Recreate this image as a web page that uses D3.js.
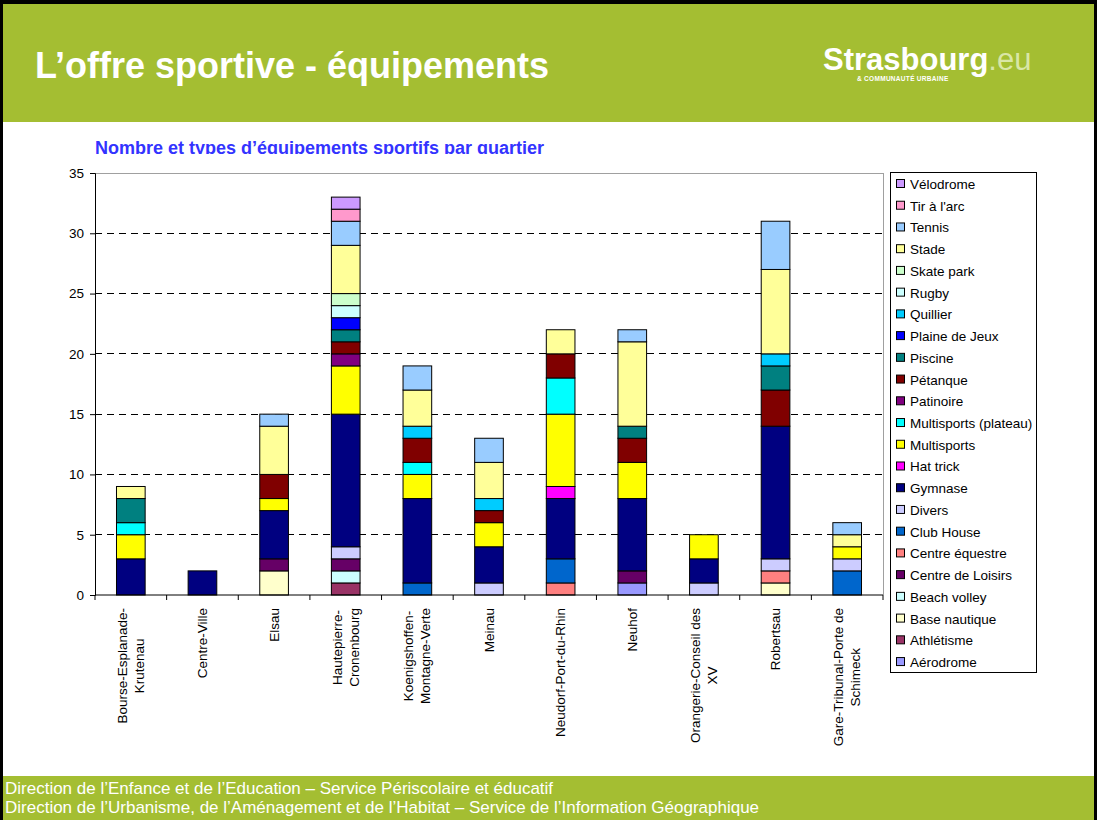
<!DOCTYPE html>
<html><head><meta charset="utf-8">
<script src="https://cdn.jsdelivr.net/npm/d3@7"></script>
<style>
html,body{margin:0;padding:0;background:#fff;}
svg{display:block;}
text{font-family:"Liberation Sans",Arial,sans-serif;}
</style></head>
<body>
<script>
const categories = ["Bourse-Esplanade-Krutenau","Centre-Ville","Elsau","Hautepierre-Cronenbourg","Koenigshoffen-Montagne-Verte","Meinau","Neudorf-Port-du-Rhin","Neuhof","Orangerie-Conseil des XV","Robertsau","Gare-Tribunal-Porte de Schimeck"];
const categoryLines = [["Bourse-Esplanade-","Krutenau"],["Centre-Ville"],["Elsau"],["Hautepierre-","Cronenbourg"],["Koenigshoffen-","Montagne-Verte"],["Meinau"],["Neudorf-Port-du-Rhin"],["Neuhof"],["Orangerie-Conseil des","XV"],["Robertsau"],["Gare-Tribunal-Porte de","Schimeck"]];
const seriesNames = ["Aérodrome","Athlétisme","Base nautique","Beach volley","Centre de Loisirs","Centre équestre","Club House","Divers","Gymnase","Hat trick","Multisports","Multisports (plateau)","Patinoire","Pétanque","Piscine","Plaine de Jeux","Quillier","Rugby","Skate park","Stade","Tennis","Tir à l'arc","Vélodrome"];
const seriesColors = ["#9999FF","#993366","#FFFFCC","#CCFFFF","#660066","#FF8080","#0066CC","#CCCCFF","#000080","#FF00FF","#FFFF00","#00FFFF","#800080","#800000","#008080","#0000FF","#00CCFF","#CCFFFF","#CCFFCC","#FFFF99","#99CCFF","#FF99CC","#CC99FF"];
const aerodrome      = [0,0,0,0,0,0,0,1,0,0,0];
const athletisme     = [0,0,0,1,0,0,0,0,0,0,0];
const baseNautique   = [0,0,2,0,0,0,0,0,0,1,0];
const beachVolley    = [0,0,0,1,0,0,0,0,0,0,0];
const centreLoisirs  = [0,0,1,1,0,0,0,1,0,0,0];
const centreEquestre = [0,0,0,0,0,0,1,0,0,1,0];
const clubHouse      = [0,0,0,0,1,0,2,0,0,0,2];
const divers         = [0,0,0,1,0,1,0,0,1,1,1];
const gymnase        = [3,2,4,11,7,3,5,6,2,11,0];
const hatTrick       = [0,0,0,0,0,0,1,0,0,0,0];
const multisports    = [2,0,1,4,2,2,6,3,2,0,1];
const multiPlateau   = [1,0,0,0,1,0,3,0,0,0,0];
const patinoire      = [0,0,0,1,0,0,0,0,0,0,0];
const petanque       = [0,0,2,1,2,1,2,2,0,3,0];
const piscine        = [2,0,0,1,0,0,0,1,0,2,0];
const plaineJeux     = [0,0,0,1,0,0,0,0,0,0,0];
const quillier       = [0,0,0,0,1,1,0,0,0,1,0];
const rugby          = [0,0,0,1,0,0,0,0,0,0,0];
const skatePark      = [0,0,0,1,0,0,0,0,0,0,0];
const stade          = [1,0,4,4,3,3,2,7,0,7,1];
const tennis         = [0,0,1,2,2,2,0,1,0,4,1];
const tirArc         = [0,0,0,1,0,0,0,0,0,0,0];
const velodrome      = [0,0,0,1,0,0,0,0,0,0,0];
const seriesValues = [aerodrome,athletisme,baseNautique,beachVolley,centreLoisirs,centreEquestre,clubHouse,divers,gymnase,hatTrick,multisports,multiPlateau,patinoire,petanque,piscine,plaineJeux,quillier,rugby,skatePark,stade,tennis,tirArc,velodrome];
const yTicks = [0,5,10,15,20,25,30,35];
const titleText = "L\u2019offre sportive - équipements";
const subtitleText = "Nombre et types d\u2019équipements sportifs par quartier";
const footerLines = ["Direction de l\u2019Enfance et de l\u2019Education \u2013 Service Périscolaire et éducatif","Direction de l\u2019Urbanisme, de l\u2019Aménagement et de l\u2019Habitat \u2013 Service de l\u2019Information Géographique"];

const W = 1097, H = 820;
const green = "#A4BE32";
const fs = 13.5;
const svg = d3.select("body").append("svg").attr("width", W).attr("height", H);

// frame
svg.append("rect").attr("x",0).attr("y",0).attr("width",W).attr("height",H).attr("fill","#000");
svg.append("rect").attr("x",3).attr("y",4).attr("width",W-6).attr("height",H-4).attr("fill","#fff");
svg.append("rect").attr("x",3).attr("y",4).attr("width",W-6).attr("height",118).attr("fill",green);
svg.append("rect").attr("x",3).attr("y",776).attr("width",W-6).attr("height",H-776).attr("fill",green);

svg.append("text").attr("x",35).attr("y",78).attr("fill","#fff")
  .attr("font-size",36).attr("font-weight","bold").text(titleText);

// logo
const logo = svg.append("text").attr("x",823).attr("y",70).attr("font-family","Lato, 'Open Sans', sans-serif")
  .attr("font-size",31).attr("font-weight","bold");
logo.append("tspan").attr("fill","#fff").text("Strasbourg");
logo.append("tspan").attr("fill","#D9E6A6").attr("font-weight","normal").text(".eu");
svg.append("text").attr("x",857).attr("y",81).attr("fill","#fff").attr("font-size",6.5).attr("font-weight","bold")
  .attr("font-family","Lato, sans-serif").attr("letter-spacing",0.3).text("& COMMUNAUTÉ URBAINE");

// subtitle (clipped at bottom, as in original)
svg.append("clipPath").attr("id","subclip").append("rect").attr("x",0).attr("y",120).attr("width",W).attr("height",34);
svg.append("text").attr("x",95).attr("y",154).attr("fill","#3333FF").attr("font-size",18).attr("font-weight","bold")
  .attr("clip-path","url(#subclip)").text(subtitleText);

// footer
footerLines.forEach((t,i)=>{
  svg.append("text").attr("x",5).attr("y",794+i*19).attr("fill","#fff").attr("font-size",17).text(t);
});

// chart
const x0 = 95, x1 = 883, yTop = 173, yBot = 595;
const x = d3.scaleBand().domain(categories).range([x0,x1]).paddingInner(0.6).paddingOuter(0.3);
const y = d3.scaleLinear().domain([0,35]).range([yBot,yTop]);
const g = svg.append("g");

// gridlines
g.selectAll("line.grid").data(yTicks.filter(d=>d>0 && d<35)).enter().append("line")
  .attr("x1",x0).attr("x2",x1).attr("y1",d=>y(d)).attr("y2",d=>y(d))
  .attr("stroke","#000").attr("stroke-dasharray","7,5").attr("shape-rendering","crispEdges");
// plot border top/right
g.append("path").attr("d",`M${x0},${y(35)}H${x1}V${yBot}`).attr("fill","none").attr("stroke","#A0A0A0").attr("shape-rendering","crispEdges");

// bars
const table = categories.map((c,i)=>{ const o={cat:c}; seriesNames.forEach((s,j)=>o[s]=seriesValues[j][i]); return o; });
const stack = d3.stack().keys(seriesNames)(table);
stack.forEach((layer,j)=>{
  g.append("g").selectAll("rect").data(layer.filter(d=>d[1]-d[0]>0)).enter().append("rect")
    .attr("x",d=>x(d.data.cat)).attr("width",x.bandwidth())
    .attr("y",d=>y(d[1])).attr("height",d=>y(d[0])-y(d[1]))
    .attr("fill",seriesColors[j]).attr("stroke","#000").attr("stroke-width",1);
});

// y axis
const yAxis = d3.axisLeft(y).tickValues(yTicks).tickSize(5).tickPadding(6);
const ya = g.append("g").attr("transform",`translate(${x0},0)`).call(yAxis);
ya.select(".domain").attr("stroke","#000");
ya.selectAll("text").attr("font-size",fs).attr("fill","#000").attr("font-family","'Liberation Sans',Arial,sans-serif");
ya.selectAll("line").attr("stroke","#000");

// x axis
const xa = g.append("g").attr("transform",`translate(0,${yBot})`);
xa.append("line").attr("x1",x0).attr("x2",x1).attr("y1",0).attr("y2",0).attr("stroke","#000");
const step = x.step();
const bounds = categories.map(c=>x(c)-step*0.3).concat([x1]);
xa.selectAll("line.tk").data(bounds).enter().append("line")
  .attr("x1",d=>d).attr("x2",d=>d).attr("y1",0).attr("y2",5).attr("stroke","#000");

categories.forEach((c,i)=>{
  const cx = x(c)+x.bandwidth()/2;
  const lines = categoryLines[i];
  const lh = 17;
  const t = xa.append("text").attr("transform",`translate(${cx},13) rotate(-90)`)
    .attr("font-size",fs).attr("fill","#000").attr("text-anchor","middle");
  lines.forEach((l,k)=>{
    t.append("tspan").attr("x",0).attr("y",(k-(lines.length-1)/2)*lh + 4.5).text(l);
  });
  const maxW = d3.max(t.selectAll("tspan").nodes(), n=>n.getComputedTextLength());
  t.selectAll("tspan").attr("x",-maxW/2);
});

// legend
const lg = svg.append("g");
lg.append("rect").attr("x",890.5).attr("y",172.5).attr("width",146).attr("height",500).attr("fill","#fff").attr("stroke","#000");
const legOrder = seriesNames.map((s,j)=>j).reverse();
legOrder.forEach((j,k)=>{
  const yy = 184 + k*21.73;
  lg.append("rect").attr("x",896.5).attr("y",yy-4.5).attr("width",8).attr("height",8)
    .attr("fill",seriesColors[j]).attr("stroke","#000");
  lg.append("text").attr("x",910).attr("y",yy+5).attr("font-size",fs).attr("fill","#000").text(seriesNames[j]);
});
</script>
</body></html>
